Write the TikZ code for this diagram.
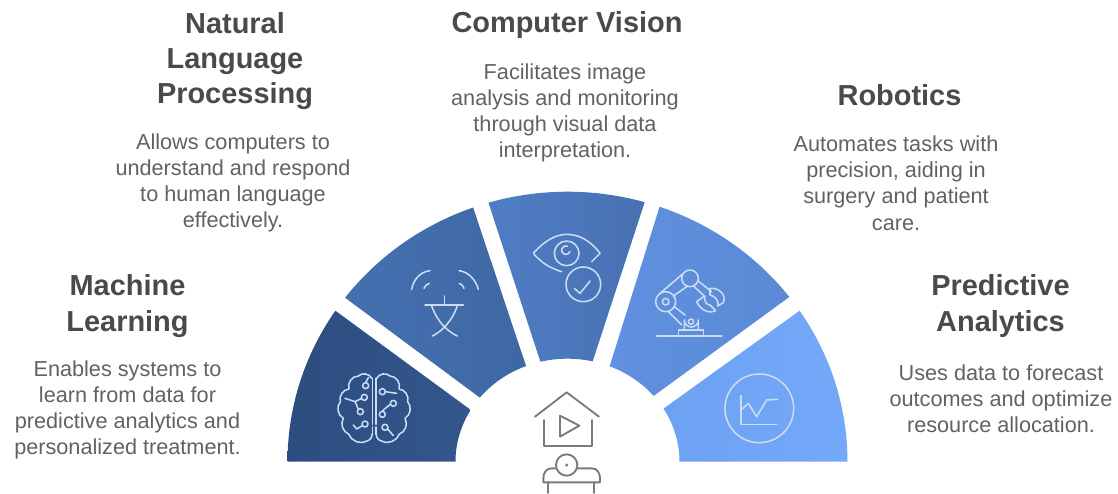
\documentclass[tikz,border=0pt]{standalone}
\usepackage{fontspec}
\setmainfont{Liberation Sans}
\definecolor{titlecol}{HTML}{4A4A4A}
\definecolor{bodycol}{HTML}{626262}
\definecolor{iconline}{HTML}{CBDCF5}
\definecolor{homeline}{HTML}{7A7A7A}
\definecolor{segAa}{HTML}{2D4D80}
\definecolor{segAb}{HTML}{33568C}
\definecolor{segBa}{HTML}{4570B0}
\definecolor{segBb}{HTML}{3E67A4}
\definecolor{segCa}{HTML}{4F7DC4}
\definecolor{segCb}{HTML}{4871B3}
\definecolor{segDa}{HTML}{6090E0}
\definecolor{segDb}{HTML}{5B89D4}
\definecolor{segEa}{HTML}{6DA1F2}
\definecolor{segEb}{HTML}{74A8F8}
\tikzset{
  headtext/.style={font=\fontsize{21.7}{26.5}\selectfont\bfseries,text=titlecol,align=center,inner sep=0pt},
  bodytext/.style={font=\fontsize{16.25}{19.65}\selectfont,text=bodycol,align=center,inner sep=0pt},
  zoomed/.style={x=0.25pt,y=-0.25pt},
  iconstroke/.style={draw=iconline,line width=1.15pt,line cap=round,line join=round},
  homestroke/.style={draw=homeline,line width=1.4pt,line cap=round,line join=round},
}
% segment: outer angles #1..#2, inner angles #4..#3, shading colours #5,#6
\newcommand{\wedgeseg}[6]{%
  \path[left color=#5,right color=#6]
    plot[domain=#1:#2,samples=40] ({567.5+280*cos(\x)},{461.7-270*sin(\x)})
    -- plot[domain=#4:#3,samples=25] ({567.5+112*cos(\x)},{461.7-103*sin(\x)}) -- cycle;}
\begin{document}
\begin{tikzpicture}[x=0.75pt,y=-0.75pt]
\useasboundingbox (0,0) rectangle (1118,493);
\fill[white] (0,0) rectangle (1118,493);

\wedgeseg{180}{146}{180}{149.8}{segAa}{segAb}
\wedgeseg{142.6}{109.7}{141.5}{111.7}{segBa}{segBb}
\wedgeseg{106.4}{74}{104}{77}{segCa}{segCb}
\wedgeseg{70.8}{37.6}{67.9}{39.7}{segDa}{segDb}
\wedgeseg{34}{0}{31}{0}{segEa}{segEb}

% brain
\begin{scope}[shift={(325,365)},zoomed,iconstroke]
\draw (140,40) to[bend right=55] (100,33) to[bend right=55] (72,72) to[bend right=50] (46,110)
  to[bend right=50] (55,160) to[bend right=50] (72,208) to[bend right=50] (125,228) to[bend right=40] (141,208);
\draw (155,40) to[bend left=55] (195,33) to[bend left=55] (222,72) to[bend left=50] (248,110)
  to[bend left=50] (240,160) to[bend left=50] (222,208) to[bend left=50] (170,228) to[bend left=40] (154,208);
\draw (142,40)--(142,178) (153,40)--(153,178) (142,186)--(142,208) (153,186)--(153,208);
\draw (122,62) circle[radius=9] (118,97) circle[radius=9] (106,140) circle[radius=9] (120,177) circle[radius=9]
  (172,80) circle[radius=9] (205,115) circle[radius=9] (172,148) circle[radius=9] (180,187) circle[radius=9];
\draw (122,53)--(130,38) (110,100)--(90,110)--(60,100) (100,132)--(90,110) (112,182)--(95,192)--(85,180)
  (181,80)--(215,85) (196,118)--(175,135)--(172,139) (188,192)--(205,212);
\end{scope}

% antenna
\begin{scope}[shift={(400,260)},zoomed,iconstroke]
\draw (90,32) .. controls (60,35) and (40,60) .. (35,88);
\draw (177,32) .. controls (205,35) and (228,60) .. (235,88);
\draw (88,70) .. controls (80,72) and (75,78) .. (72,85);
\draw (178,70) .. controls (185,72) and (190,78) .. (192,85);
\draw (75,135)--(190,135) (133,108)--(133,135);
\draw (95,138) .. controls (105,165) and (125,205) .. (172,228);
\draw (172,138) .. controls (162,165) and (142,205) .. (97,228);
\end{scope}

% eye and check
\begin{scope}[shift={(525,225)},zoomed,iconstroke]
\draw (110,140) .. controls (75,130) and (45,110) .. (25,85) .. controls (60,45) and (95,28) .. (125,28)
  .. controls (160,28) and (195,45) .. (225,85) -- (200,110);
\draw (125,85) circle[radius=37];
\draw (135,80) arc[start angle=20,end angle=290,radius=13];
\draw (175,178) circle[radius=52];
\draw (148,190)--(165,205)--(195,168);
\end{scope}

% robot arm
\begin{scope}[shift={(645,260)},zoomed,iconstroke]
\draw (35,228)--(230,228);
\draw (100,228)--(100,210)--(175,210)--(175,228);
\draw (118,210)--(118,180) arc[start angle=180,end angle=0,radius=21] --(160,210);
\draw (138,185) circle[radius=8];
\draw (62,125) circle[radius=30] (62,125) circle[radius=10];
\draw (135,55) circle[radius=25];
\draw (45,100)--(113,42) (85,108)--(128,78);
\draw (88,140)--(120,165) (70,155)--(110,195);
\draw (158,62)--(200,95) (145,78)--(180,110);
\draw (195,85) .. controls (222,82) and (245,105) .. (235,128) -- (218,138) .. controls (222,115) and (205,108) .. (195,105) -- cycle;
\draw (178,108) -- (155,125) .. controls (165,148) and (190,163) .. (212,152) -- (195,135) .. controls (185,135) and (178,125) .. (178,108);
\end{scope}

% chart
\begin{scope}[shift={(715,365)},zoomed,iconstroke]
\draw (133,130) circle[radius=103];
\draw (78,92)--(78,178)--(185,178);
\draw (78,135)--(100,115)--(125,155)--(155,105)--(188,103);
\end{scope}

% home and person
\begin{scope}[shift={(520,385)},zoomed,homestroke]
\draw (45,95)--(140,22)--(237,95);
\draw (72,105)--(72,182)--(215,182)--(215,105);
\draw (120,92)--(178,122)--(120,155)--cycle;
\draw (140,240) circle[radius=32];
\fill[homeline,draw=none] (140,240) circle[radius=5];
\draw (108,250)--(95,250) .. controls (80,250) and (70,262) .. (70,280) -- (70,292) -- (240,292) -- (240,280) .. controls (240,262) and (230,250) .. (215,250) -- (172,250);
\draw (85,292)--(85,324) (222,292)--(222,324);
\end{scope}

\node[headtext] (nlpT) at (235,61) {Natural\\Language\\Processing};
\node[bodytext] (nlpB) at (233,183) {Allows computers to\\understand and respond\\to human language\\effectively.};
\node[headtext] (cvT) at (567,25.5) {Computer Vision};
\node[bodytext] (cvB) at (565,113) {Facilitates image\\analysis and monitoring\\through visual data\\interpretation.};
\node[headtext] (robT) at (899.5,95) {Robotics};
\node[bodytext] (robB) at (896,183) {Automates tasks with\\precision, aiding in\\surgery and patient\\care.};
\node[headtext] (mlT) at (127.5,306) {Machine\\Learning};
\node[bodytext] (mlB) at (127.5,410) {Enables systems to\\learn from data for\\predictive analytics and\\personalized treatment.};
\node[headtext] (paT) at (1000.5,306) {Predictive\\Analytics};
\node[bodytext] (paB) at (1001,399) {Uses data to forecast\\outcomes and optimize\\resource allocation.};
\end{tikzpicture}
\end{document}
